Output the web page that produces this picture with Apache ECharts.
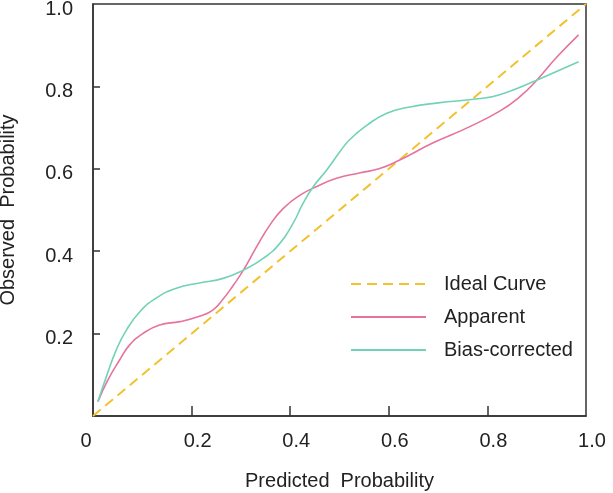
<!DOCTYPE html>
<html>
<head>
<meta charset="utf-8">
<script src="https://cdn.jsdelivr.net/npm/echarts@6/dist/echarts.min.js"></script>
<style>
  html, body { margin: 0; padding: 0; background: #fff; }
  #chartmain { width: 613px; height: 493px; }
</style>
</head>
<body>
<div id="chartmain"></div>
<script>
// 数据
var idealX = [0, 1];
var idealY = [0, 1];

var apparentX = [0.01, 0.03, 0.054, 0.074, 0.101, 0.135, 0.176, 0.216, 0.243, 0.264, 0.285, 0.305, 0.332, 0.359, 0.386, 0.42, 0.454, 0.494, 0.54, 0.58, 0.62, 0.69, 0.76, 0.825, 0.866, 0.90, 0.94, 0.985];
var apparentY = [0.035, 0.087, 0.136, 0.172, 0.20, 0.221, 0.229, 0.242, 0.257, 0.284, 0.318, 0.354, 0.411, 0.464, 0.504, 0.536, 0.557, 0.577, 0.59, 0.60, 0.62, 0.663, 0.70, 0.74, 0.775, 0.815, 0.87, 0.925];

var biasX = [0.01, 0.027, 0.047, 0.068, 0.095, 0.128, 0.169, 0.216, 0.264, 0.305, 0.346, 0.379, 0.406, 0.426, 0.447, 0.474, 0.50, 0.52, 0.556, 0.596, 0.643, 0.70, 0.78, 0.825, 0.90, 0.947, 0.985];
var biasY = [0.035, 0.095, 0.16, 0.209, 0.253, 0.286, 0.31, 0.323, 0.334, 0.354, 0.383, 0.419, 0.468, 0.516, 0.557, 0.597, 0.64, 0.67, 0.706, 0.735, 0.75, 0.76, 0.77, 0.78, 0.815, 0.84, 0.86];

var xTicks = [0.2, 0.4, 0.6, 0.8];
var xLabels = [0, 0.2, 0.4, 0.6, 0.8, 1.0];
var yTicks = [0.2, 0.4, 0.6, 0.8];
var yLabels = [0.2, 0.4, 0.6, 0.8, 1.0];

function pairs(xs, ys) {
    var out = [];
    for (var i = 0; i < xs.length; i++) out.push([xs[i], ys[i]]);
    return out;
}

var myChart = echarts.init(document.getElementById('chartmain'));
var font = '"Liberation Sans", Arial, sans-serif';
var ink = '#222';
var fs = 20;

option = {
    animation: false,
    textStyle: { fontFamily: font },
    grid: {
        left: 93, right: 27, top: 4, bottom: 77,
        outerBoundsMode: 'none',
        show: true, borderColor: '#333', borderWidth: 1.5
    },
    legend: {
        orient: 'vertical',
        left: 345, top: 269,
        itemWidth: 75, itemHeight: 14, itemGap: 13,
        itemStyle: { opacity: 0 },
        textStyle: { fontSize: fs, color: ink, padding: [0, 0, 0, 13] },
        data: ['Ideal Curve', 'Apparent', 'Bias-corrected']
    },
    xAxis: {
        type: 'value', min: 0, max: 1,
        name: 'Predicted  Probability',
        nameLocation: 'middle', nameGap: 55,
        nameTextStyle: { fontSize: fs, color: ink },
        splitLine: { show: false },
        axisLine: { show: true, lineStyle: { color: '#333', width: 1.5 } },
        axisTick: { show: true, inside: true, length: 10, customValues: xTicks, lineStyle: { color: '#333', width: 1.5 } },
        axisLabel: {
            customValues: xLabels, margin: 15, fontSize: fs, color: ink,
            formatter: function (v) {
                return v === 0 ? '{z|0}' : '{n|' + v.toFixed(1) + '}';
            },
            rich: {
                z: { fontSize: fs, color: ink, padding: [0, 14, 0, 0] },
                n: { fontSize: fs, color: ink, padding: [0, 0, 0, 12] }
            }
        }
    },
    yAxis: {
        type: 'value', min: 0, max: 1,
        name: 'Observed  Probability',
        nameLocation: 'middle', nameGap: 75,
        nameTextStyle: { fontSize: fs, color: ink },
        splitLine: { show: false },
        axisLine: { show: true, lineStyle: { color: '#333', width: 1.5 } },
        axisTick: { show: true, inside: true, length: 7, customValues: yTicks, lineStyle: { color: '#333', width: 1.5 } },
        axisLabel: {
            customValues: yLabels, margin: 20, fontSize: fs, color: ink,
            formatter: function (v) { return '{n|' + v.toFixed(1) + '}'; },
            rich: { n: { fontSize: fs, color: ink, padding: [10, 0, 0, 0] } }
        }
    },
    series: [{
        name: 'Ideal Curve', type: 'line', symbol: 'none',
        data: pairs(idealX, idealY),
        lineStyle: { color: '#F2C12E', width: 2, type: [10, 6] },
        itemStyle: { color: '#F2C12E' }
    }, {
        name: 'Apparent', type: 'line', symbol: 'none', smooth: 0.5,
        data: pairs(apparentX, apparentY),
        lineStyle: { color: '#E6739B', width: 1.6 },
        itemStyle: { color: '#E6739B' }
    }, {
        name: 'Bias-corrected', type: 'line', symbol: 'none', smooth: 0.5,
        data: pairs(biasX, biasY),
        lineStyle: { color: '#72D2B8', width: 1.6 },
        itemStyle: { color: '#72D2B8' }
    }]
};

myChart.setOption(option);
</script>
</body>
</html>
